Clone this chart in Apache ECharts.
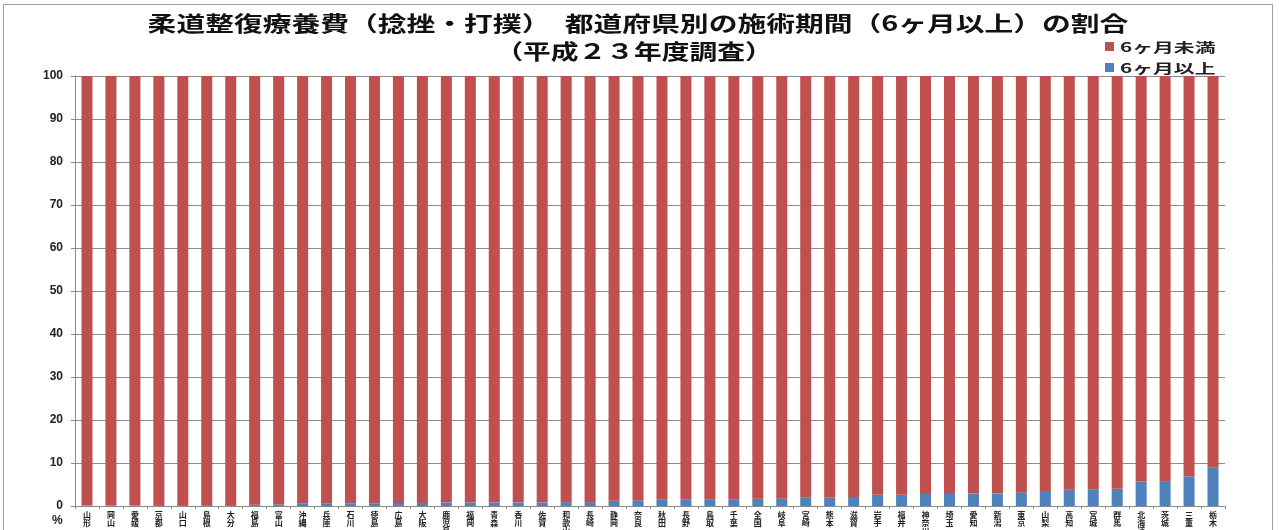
<!DOCTYPE html>
<html>
<head>
<meta charset="utf-8">
<script src="https://cdn.jsdelivr.net/npm/echarts@6/dist/echarts.min.js"></script>
<style>
  html, body { margin: 0; padding: 0; background: #fff; }
  #chart { width: 1279px; height: 530px; }
</style>
</head>
<body>
<div id="chart"></div>
<script>
// Prefectures (plus national figure), sorted by share of treatments lasting 6 months or more
const prefectures = [
  '山形', '岡山', '愛媛', '京都', '山口', '島根', '大分', '福島', '富山', '沖縄',
  '兵庫', '石川', '徳島', '広島', '大阪', '鹿児島', '福岡', '青森', '香川', '佐賀',
  '和歌山', '長崎', '静岡', '奈良', '秋田', '長野', '鳥取', '千葉', '全国', '岐阜',
  '宮崎', '熊本', '滋賀', '岩手', '福井', '神奈川', '埼玉', '愛知', '新潟', '東京',
  '山梨', '高知', '宮城', '群馬', '北海道', '茨城', '三重', '栃木'
];

// Share (%) of treatments lasting 6 months or more
const sixMonthsOrMore = [
  0.1, 0.1, 0.1, 0.2, 0.2, 0.2, 0.2, 0.3, 0.4, 0.5,
  0.5, 0.6, 0.6, 0.7, 0.7, 0.8, 0.8, 0.8, 0.8, 0.8,
  0.9, 0.9, 1.2, 1.2, 1.6, 1.6, 1.6, 1.6, 1.7, 1.7,
  1.9, 1.9, 2.1, 2.6, 2.6, 2.8, 2.8, 2.9, 2.9, 3.1,
  3.5, 3.8, 3.9, 4.0, 5.7, 5.8, 6.9, 8.9
];

// Share (%) of treatments shorter than 6 months
const underSixMonths = [
  99.9, 99.9, 99.9, 99.8, 99.8, 99.8, 99.8, 99.7, 99.6, 99.5,
  99.5, 99.4, 99.4, 99.3, 99.3, 99.2, 99.2, 99.2, 99.2, 99.2,
  99.1, 99.1, 98.8, 98.8, 98.4, 98.4, 98.4, 98.4, 98.3, 98.3,
  98.1, 98.1, 97.9, 97.4, 97.4, 97.2, 97.2, 97.1, 97.1, 96.9,
  96.5, 96.2, 96.1, 96.0, 94.3, 94.2, 93.1, 91.1
];

const seriesNames = ['6ヶ月未満', '6ヶ月以上'];
const yTicks = { min: 0, max: 100, interval: 10 };

const RED = '#C0504D';
const BLUE = '#4F81BD';
const JP = '"Noto Sans CJK JP", "Noto Sans", sans-serif';

const chart = echarts.init(document.getElementById('chart'), null, { renderer: 'canvas' });

chart.setOption({
  backgroundColor: '#fff',
  animation: false,
  grid: {
    left: 75, right: 54, top: 76, bottom: 24,
    containLabel: false,
    // long names may run past the bottom edge; keep the plot area fixed
    outerBoundsMode: 'none'
  },
  xAxis: {
    type: 'category',
    data: prefectures,
    boundaryGap: true,
    axisLine: { lineStyle: { color: '#8a8a8a', width: 1 } },
    axisTick: { show: true, length: 3, interval: 0, lineStyle: { color: '#8a8a8a' } },
    axisLabel: {
      interval: 0,
      rotate: 0,
      margin: 5,
      hideOverlap: false,
      fontFamily: JP,
      fontSize: 8,
      fontWeight: 'bold',
      lineHeight: 8,
      color: '#222',
      // names are written top-to-bottom, one character per line
      formatter: (v) => Array.from(v).join('\n')
    }
  },
  yAxis: {
    type: 'value',
    min: yTicks.min,
    max: yTicks.max,
    interval: yTicks.interval,
    axisLine: { show: true, lineStyle: { color: '#8a8a8a' } },
    axisTick: { show: true, length: 4, lineStyle: { color: '#8a8a8a' } },
    splitLine: { show: true, lineStyle: { color: '#8c8c8c', width: 1 } },
    axisLabel: {
      margin: 12,
      fontFamily: 'Liberation Sans, Arial, sans-serif',
      fontSize: 12,
      fontWeight: 'bold',
      color: '#222'
    }
  },
  series: [
    {
      name: seriesNames[1],
      type: 'bar',
      stack: 'share',
      data: sixMonthsOrMore,
      barWidth: '46%',
      itemStyle: { color: BLUE }
    },
    {
      name: seriesNames[0],
      type: 'bar',
      stack: 'share',
      data: underSixMonths,
      barWidth: '46%',
      itemStyle: { color: RED }
    }
  ],
  graphic: [
    // chart frame
    {
      type: 'rect',
      shape: { x: 3.5, y: 4.5, width: 1269, height: 540 },
      style: { fill: 'none', stroke: '#a0a0a0', lineWidth: 1 },
      silent: true
    },
    // title, two lines
    {
      type: 'text',
      x: 638, y: 23,
      scaleX: 1.37,
      style: {
        text: '柔道整復療養費（捻挫・打撲）　都道府県別の施術期間（6ヶ月以上）の割合',
        font: 'bold 21px ' + JP,
        fill: '#111',
        textAlign: 'center',
        textVerticalAlign: 'middle'
      }
    },
    {
      type: 'text',
      x: 634, y: 51,
      scaleX: 1.32,
      style: {
        text: '（平成２３年度調査）',
        font: 'bold 21px ' + JP,
        fill: '#111',
        textAlign: 'center',
        textVerticalAlign: 'middle'
      }
    },
    // legend
    {
      type: 'rect',
      shape: { x: 1105, y: 42, width: 9, height: 9 },
      style: { fill: RED }
    },
    {
      type: 'text',
      x: 1120, y: 47,
      scaleX: 1.6,
      style: {
        text: seriesNames[0],
        font: 'bold 13px ' + JP,
        fill: '#222',
        textAlign: 'left',
        textVerticalAlign: 'middle'
      }
    },
    {
      type: 'rect',
      shape: { x: 1105, y: 63, width: 9, height: 9 },
      style: { fill: BLUE }
    },
    {
      type: 'text',
      x: 1120, y: 68,
      scaleX: 1.6,
      style: {
        text: seriesNames[1],
        font: 'bold 13px ' + JP,
        fill: '#222',
        textAlign: 'left',
        textVerticalAlign: 'middle'
      }
    },
    // unit label under the value axis
    {
      type: 'text',
      x: 52, y: 521,
      style: {
        text: '%',
        font: 'bold 12px Liberation Sans, Arial, sans-serif',
        fill: '#222',
        textAlign: 'left',
        textVerticalAlign: 'middle'
      }
    }
  ]
});
</script>
</body>
</html>
